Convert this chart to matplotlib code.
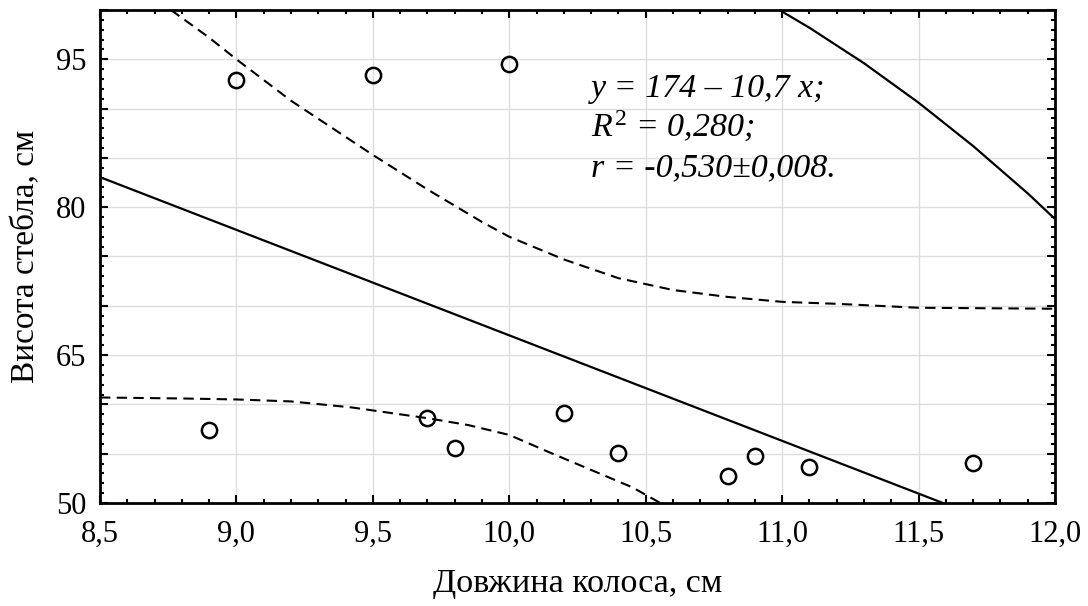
import numpy as np
import matplotlib.pyplot as plt
from matplotlib.ticker import MultipleLocator, FuncFormatter

plt.rcParams['font.family'] = ['Liberation Serif', 'DejaVu Serif']
plt.rcParams['mathtext.fontset'] = 'custom'
plt.rcParams['mathtext.rm'] = 'Liberation Serif'
plt.rcParams['mathtext.it'] = 'Liberation Serif:italic'

# observed points
ear_len = [8.9, 9.0, 9.5, 10.0, 9.7, 9.8, 10.2, 10.4, 10.8, 10.9, 11.1, 11.7]
stem_h = [57.4, 92.9, 93.4, 94.5, 58.6, 55.6, 59.1, 55.1, 52.7, 54.8, 53.6, 54.1]

# regression y = a + b*x
a, b = 174.0, -10.7

# dashed bands
up_x = [8.76, 8.9, 9.0, 9.2, 9.5, 9.7, 9.9, 10.0, 10.2, 10.4, 10.6, 10.8, 11.0, 11.2, 11.5, 12.0]
up_y = [100.0, 97.2, 95.0, 90.8, 85.3, 81.8, 78.5, 77.0, 74.7, 72.8, 71.6, 70.9, 70.4, 70.2, 69.8, 69.7]
lo_x = [8.5, 8.8, 9.0, 9.2, 9.42, 9.7, 9.85, 10.0, 10.15, 10.33, 10.45, 10.56]
lo_y = [60.7, 60.6, 60.5, 60.3, 59.7, 58.6, 57.9, 56.9, 55.1, 53.0, 51.6, 49.9]

# upper solid curve
cu_x = [10.99, 11.1, 11.2, 11.3, 11.4, 11.5, 11.6, 11.7, 11.8, 11.9, 12.0]
cu_y = [100.0, 98.2, 96.4, 94.6, 92.6, 90.6, 88.4, 86.2, 83.8, 81.4, 78.8]

fig = plt.figure(figsize=(10.88, 6.06), dpi=100)
ax = fig.add_axes([0.0919, 0.170, 0.8778, 0.8135])

xs = np.array([8.5, 12.0])
ax.plot(xs, a + b * xs, color='black', lw=1.6)
ax.plot(up_x, up_y, color='black', lw=1.5, ls=(0, (5, 3)))
ax.plot(lo_x, lo_y, color='black', lw=1.5, ls=(0, (5, 3)))
ax.plot(cu_x, cu_y, color='black', lw=1.6)
ax.plot(ear_len, stem_h, 'o', mfc='none', mec='black', ms=11, mew=1.8, clip_on=False)

ax.set_xlim(8.5, 12.0)
ax.set_ylim(50, 100)
ax.xaxis.set_major_locator(MultipleLocator(0.5))
ax.xaxis.set_minor_locator(MultipleLocator(0.1))
ax.yaxis.set_major_locator(MultipleLocator(5))
ax.yaxis.set_minor_locator(MultipleLocator(1))
ax.xaxis.set_major_formatter(FuncFormatter(lambda v, p: f'{v:.1f}'.replace('.', ',')))
ax.yaxis.set_major_formatter(FuncFormatter(lambda v, p: f'{v:.0f}' if round(v) in (50, 65, 80, 95) else ''))
ax.grid(True, which='major', color='#dddddd', lw=1)
ax.set_axisbelow(True)
ax.tick_params(which='both', direction='in', top=True, right=True, labelsize=22, width=1.5)
ax.tick_params(which='major', length=6)
ax.tick_params(axis='x', which='major', pad=12)
ax.tick_params(axis='y', which='major', pad=10)
ax.tick_params(which='minor', length=3)
for s in ax.spines.values():
    s.set_linewidth(2)

ax.set_xlabel('Довжина колоса, см', fontsize=24.5, labelpad=14)
ax.set_ylabel('Висота стебла, см', fontsize=24, labelpad=10)

ax.text(10.30, 91.2, 'y = 174 – 10,7 x;', fontsize=24.5, style='italic', va='baseline')
ax.text(10.30, 87.1, '$R^2$ = 0,280;', fontsize=24.5, style='italic', va='baseline')
ax.text(10.30, 83.1, 'r = -0,530±0,008.', fontsize=24.5, style='italic', va='baseline')

fig.savefig('out.png', dpi=100)
